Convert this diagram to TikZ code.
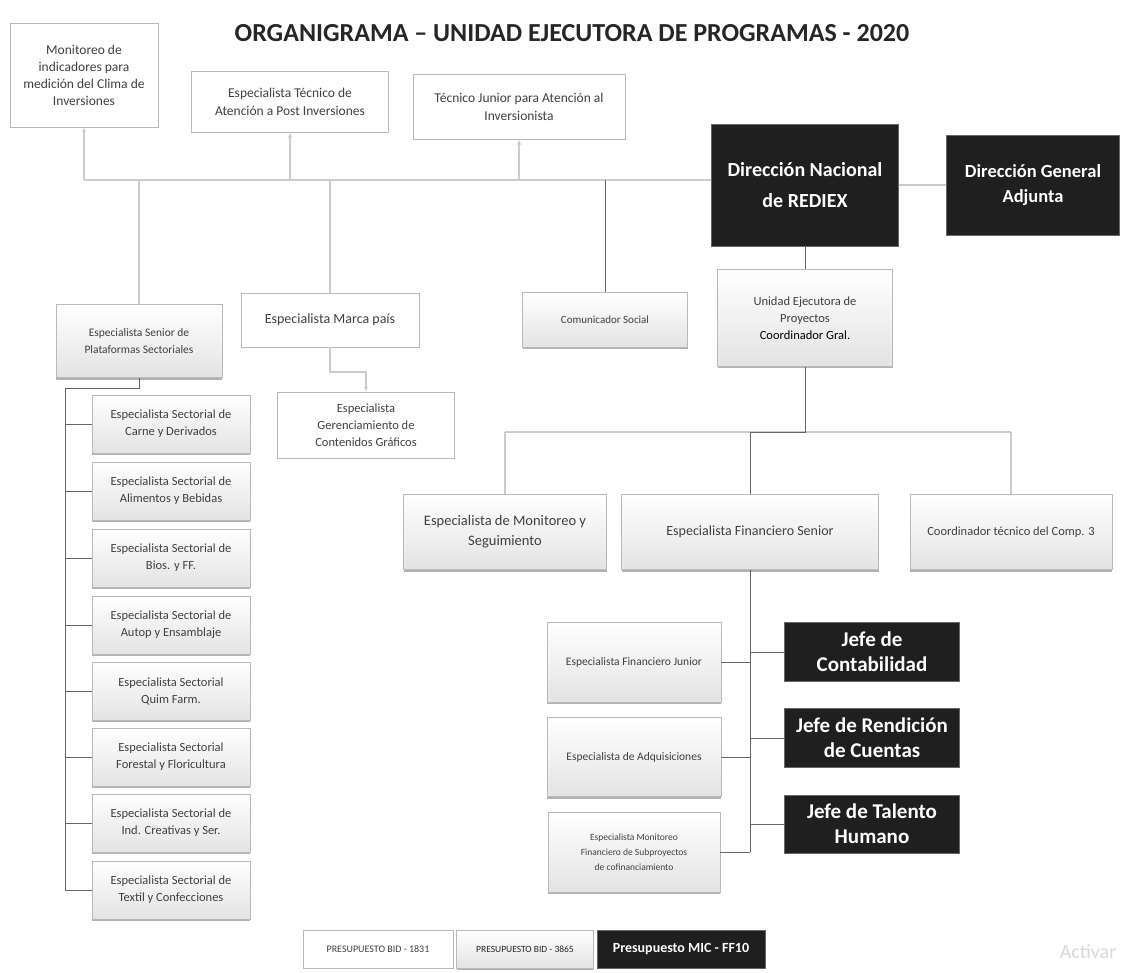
\documentclass[tikz,border=0pt]{standalone}
\usepackage{fontspec}
\setmainfont{Carlito}
\usetikzlibrary{arrows.meta,shadows}

\tikzset{
  box/.style={draw=gray!55, align=center, inner sep=2pt, text=black!75, font=\fontsize{12.5}{17}\selectfont},
  wbox/.style={box, fill=white},
  gbox/.style={box, top color=white, bottom color=gray!22,
    drop shadow={shadow xshift=0pt, shadow yshift=-2pt, fill=gray!60, opacity=1}},
  dbox/.style={draw=black!60, fill=black!88, text=white, align=center, font=\bfseries\fontsize{21}{25}\selectfont},
  lline/.style={draw=gray!40, line width=1.1pt},
  dline/.style={draw=black!60, line width=1pt},
  up/.style={-{Latex[length=5pt,width=4.5pt]}}
}

\begin{document}
\begin{tikzpicture}[x=1pt,y=-1pt]
    \path[use as bounding box, fill=white] (0,0) rectangle (1124,973);

    % Title
    \node[font=\bfseries\fontsize{26}{30}\selectfont, text=black!85] (title) at (572,33) {ORGANIGRAMA – UNIDAD EJECUTORA DE PROGRAMAS - 2020};

    % Top row
    \node[wbox, font=\fontsize{13.5}{17}\selectfont, minimum width=148, minimum height=104] (mon) at (84,75) {Monitoreo de\\indicadores para\\medición del Clima de\\Inversiones};
    \node[wbox, font=\fontsize{13.5}{18}\selectfont, minimum width=197, minimum height=61] (tecpost) at (290,102) {Especialista Técnico de\\Atención a Post Inversiones};
    \node[wbox, font=\fontsize{13.5}{18}\selectfont, minimum width=212, minimum height=65] (tecjun) at (519,107) {Técnico Junior para Atención al\\Inversionista};

    % Direction nodes
    \node[dbox, font=\bfseries\fontsize{20}{31}\selectfont, minimum width=187, minimum height=122] (dn) at (805,185) {Dirección Nacional\\de REDIEX};
    \node[dbox, font=\bfseries\fontsize{18.5}{25}\selectfont, minimum width=173, minimum height=100] (dga) at (1033,185) {Dirección General\\Adjunta};

    % Second stage nodes
    \node[gbox, font=\fontsize{11.5}{17}\selectfont, minimum width=166, minimum height=73] (esen) at (139,341) {Especialista Senior de\\Plataformas Sectoriales};
    \node[wbox, font=\fontsize{14}{17}\selectfont, minimum width=178, minimum height=54] (marca) at (330,320) {Especialista Marca país};
    \node[wbox, font=\fontsize{12.5}{17}\selectfont, minimum width=177, minimum height=66] (geren) at (366,425) {Especialista\\Gerenciamiento de\\Contenidos Gráficos};
    \node[gbox, font=\fontsize{11}{17}\selectfont, minimum width=165, minimum height=55] (comu) at (605,320) {Comunicador Social};
    \node[gbox, minimum width=175, minimum height=97] (uep) at (805,318) {Unidad Ejecutora de\\Proyectos\\\textcolor{black}{Coordinador Gral.}};

    % Sector nodes
    \node[gbox, minimum width=158, minimum height=58] (sec1) at (171,424) {Especialista Sectorial de\\Carne y Derivados};
    \node[gbox, minimum width=158, minimum height=58] (sec2) at (171,491) {Especialista Sectorial de\\Alimentos y Bebidas};
    \node[gbox, minimum width=158, minimum height=58] (sec3) at (171,558) {Especialista Sectorial de\\Bios. y FF.};
    \node[gbox, minimum width=158, minimum height=58] (sec4) at (171,625) {Especialista Sectorial de\\Autop y Ensamblaje};
    \node[gbox, minimum width=158, minimum height=58] (sec5) at (171,691) {Especialista Sectorial\\Quim Farm.};
    \node[gbox, minimum width=158, minimum height=58] (sec6) at (171,757) {Especialista Sectorial\\Forestal y Floricultura};
    \node[gbox, minimum width=158, minimum height=58] (sec7) at (171,823) {Especialista Sectorial de\\Ind. Creativas y Ser.};
    \node[gbox, minimum width=158, minimum height=58] (sec8) at (171,890) {Especialista Sectorial de\\Textil y Confecciones};

    % Third stage nodes
    \node[gbox, font=\fontsize{14.5}{20}\selectfont, minimum width=203, minimum height=75] (monseg) at (505,532) {Especialista de Monitoreo y\\Seguimiento};
    \node[gbox, font=\fontsize{14}{18}\selectfont, minimum width=257, minimum height=75] (finsen) at (750,532) {Especialista Financiero Senior};
    \node[gbox, minimum width=202, minimum height=75] (coord) at (1011,532) {Coordinador técnico del Comp. 3};

    % Fourth stage nodes
    \node[gbox, font=\fontsize{11.5}{17}\selectfont, minimum width=174, minimum height=80] (finjun) at (634,662) {Especialista Financiero Junior};
    \node[gbox, font=\fontsize{11.5}{17}\selectfont, minimum width=174, minimum height=79] (adq) at (634,757) {Especialista de Adquisiciones};
    \node[gbox, font=\fontsize{9.5}{15}\selectfont, minimum width=172, minimum height=80] (monfin) at (634,852) {Especialista Monitoreo\\Financiero de Subproyectos\\de cofinanciamiento};
    \node[dbox, minimum width=175, minimum height=59] (jcont) at (872,652) {Jefe de\\Contabilidad};
    \node[dbox, minimum width=175, minimum height=59] (jrend) at (872,738) {Jefe de Rendición\\de Cuentas};
    \node[dbox, minimum width=175, minimum height=58] (jtal) at (872,824) {Jefe de Talento\\Humano};

    % Budget nodes
    \node[wbox, font=\fontsize{10}{12}\selectfont, minimum width=150, minimum height=38] (bid1) at (378,949) {PRESUPUESTO BID - 1831};
    \node[gbox, font=\fontsize{9.5}{12}\selectfont, text=black!85, minimum width=137, minimum height=38] (bid2) at (525,949) {PRESUPUESTO BID - 3865};
    \node[dbox, font=\bfseries\fontsize{14}{16}\selectfont, minimum width=168, minimum height=38] (mic) at (681,949) {Presupuesto MIC - FF10};
    \node[text=gray!30, font=\fontsize{20}{22}\selectfont] (act) at (1088,952) {Activar};

    % Edges, top bar
    \coordinate (b1) at (84,180);
    \coordinate (b2) at (139,180);
    \coordinate (b3) at (290,180);
    \coordinate (b4) at (330,180);
    \coordinate (b5) at (519,180);
    \coordinate (b6) at (605,180);
    \draw[lline] (b1) -- (b1 -| dn.west);
    \draw[lline, up] (b1) -- (mon);
    \draw[lline, up] (b3) -- (tecpost);
    \draw[lline, up] (b5) -- (tecjun);
    \draw[lline] (b2) -- (esen);
    \draw[lline] (b4) -- (marca);
    \draw[dline] (b6) -- (comu);
    \draw[lline] (dn) -- (dga);
    \draw[dline] (dn) -- (uep);

    % Edges, marca
    \coordinate (m1) at (330,372);
    \draw[lline, up] (marca) -- (m1) -| (geren);

    % Edges, sectors
    \coordinate (s0) at (65,388);
    \draw[dline] (esen) |- (s0);
    \draw[dline] (s0) |- (sec8);
    \draw[dline] (s0 |- sec1) -- (sec1);
    \draw[dline] (s0 |- sec2) -- (sec2);
    \draw[dline] (s0 |- sec3) -- (sec3);
    \draw[dline] (s0 |- sec4) -- (sec4);
    \draw[dline] (s0 |- sec5) -- (sec5);
    \draw[dline] (s0 |- sec6) -- (sec6);
    \draw[dline] (s0 |- sec7) -- (sec7);

    % Edges, unidad ejecutora
    \coordinate (u0) at (805,432);
    \coordinate (u1) at (505,432);
    \coordinate (u3) at (1011,432);
    \draw[lline] (u1) -- (u3);
    \draw[lline] (u1) -- (monseg);
    \draw[lline] (u3) -- (coord);
    \draw[dline] (uep) -- (u0) -| (finsen);

    % Edges, financiero
    \coordinate (f0) at (750,852);
    \draw[dline] (finsen) -- (f0);
    \draw[dline] (f0 |- finjun) -- (finjun);
    \draw[dline] (f0 |- adq) -- (adq);
    \draw[dline] (f0) -- (monfin);
    \draw[dline] (f0 |- jcont) -- (jcont);
    \draw[dline] (f0 |- jrend) -- (jrend);
    \draw[dline] (f0 |- jtal) -- (jtal);

\end{tikzpicture}
\end{document}
